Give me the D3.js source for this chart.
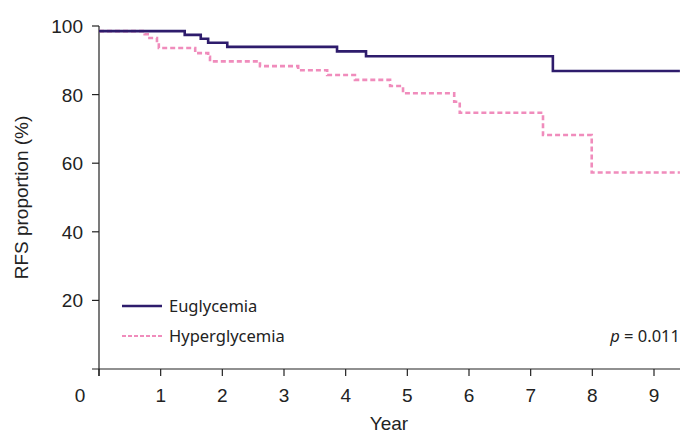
<!DOCTYPE html>
<html>
<head>
<meta charset="utf-8">
<script src="https://cdn.jsdelivr.net/npm/d3@7"></script>
<style>
  html, body { margin: 0; padding: 0; background: #fff; }
  svg { display: block; }
</style>
</head>
<body>
<svg id="chart" width="680" height="435"></svg>
<script>
// ---- data ----
const seriesNames = ["Euglycemia", "Hyperglycemia"];
const euTimes   = [0,    1.39, 1.65, 1.77, 2.08, 3.86, 4.33, 7.36, 9.42];
const euValues  = [98.5, 97.4, 96.3, 95.1, 93.9, 92.6, 91.2, 86.9, 86.9];
const hyTimes   = [0,    0.74, 0.79, 0.94, 0.97, 1.56, 1.77, 1.80, 2.61, 3.23, 3.70, 4.15, 4.72, 4.93, 5.76, 5.85, 7.20, 7.99, 9.42];
const hyValues  = [98.5, 97.6, 96.5, 95.0, 93.6, 92.1, 91.0, 89.7, 88.3, 87.1, 85.7, 84.3, 82.5, 80.4, 77.9, 74.7, 68.2, 57.3, 57.3];
const xTicks = [0, 1, 2, 3, 4, 5, 6, 7, 8, 9];
const yTicks = [20, 40, 60, 80, 100];
const pText = "0.011";

// ---- layout ----
const svg = d3.select("#chart");
const x = d3.scaleLinear().domain([0, 9]).range([99, 654]);
const y = d3.scaleLinear().domain([0, 100]).range([369, 26]);
const xMax = x.invert(680);
const axisFont = "'Liberation Sans', Arial, sans-serif";
const legendFont = "'Noto Sans', Roboto, sans-serif";
const colors = ["#2e1c6c", "#f08cbc"];
const fs = 19;

// x axis
const xAxis = svg.append("g").attr("transform", `translate(0,${y(0)})`);
xAxis.append("line").attr("x1", 92).attr("x2", 680).attr("y1", 0).attr("y2", 0)
  .attr("stroke", "#222").attr("stroke-width", 1.2);
xAxis.selectAll("line.tick").data(xTicks).join("line").attr("class", "tick")
  .attr("x1", d => x(d)).attr("x2", d => x(d)).attr("y1", 0).attr("y2", 7)
  .attr("stroke", "#222").attr("stroke-width", 1.2);
xAxis.selectAll("text.tl").data(xTicks.filter(d => d > 0)).join("text").attr("class", "tl")
  .attr("x", d => x(d)).attr("y", 33).attr("text-anchor", "middle")
  .attr("font-family", axisFont).attr("font-size", fs).attr("fill", "#222").text(d => d);
// origin label
svg.append("text").attr("x", 80).attr("y", y(0) + 33).attr("text-anchor", "middle")
  .attr("font-family", axisFont).attr("font-size", fs).attr("fill", "#222").text("0");
svg.append("text").attr("x", 389).attr("y", 430).attr("text-anchor", "middle")
  .attr("font-family", axisFont).attr("font-size", fs).attr("fill", "#222").text("Year");

// y axis
const yAxis = svg.append("g");
yAxis.append("line").attr("x1", x(0)).attr("x2", x(0)).attr("y1", y(100)).attr("y2", y(0) + 7)
  .attr("stroke", "#222").attr("stroke-width", 1.2);
yAxis.selectAll("line.tick").data(yTicks).join("line").attr("class", "tick")
  .attr("x1", x(0) - 7).attr("x2", x(0)).attr("y1", d => y(d)).attr("y2", d => y(d))
  .attr("stroke", "#222").attr("stroke-width", 1.2);
yAxis.selectAll("text.tl").data(yTicks).join("text").attr("class", "tl")
  .attr("x", 83).attr("y", d => y(d) + 7).attr("text-anchor", "end")
  .attr("font-family", axisFont).attr("font-size", fs).attr("fill", "#222").text(d => d);
svg.append("text").attr("transform", `translate(28,${y(50)}) rotate(-90)`)
  .attr("text-anchor", "middle").attr("font-family", axisFont).attr("font-size", fs)
  .attr("fill", "#222").text("RFS proportion (%)");

// curves
const line = d3.line().x(d => x(Math.min(d[0], xMax))).y(d => y(d[1])).curve(d3.curveStepAfter);
const euData = euTimes.map((t, i) => [t, euValues[i]]);
const hyData = hyTimes.map((t, i) => [t, hyValues[i]]);
svg.append("path").datum(hyData).attr("d", line).attr("fill", "none")
  .attr("stroke", colors[1]).attr("stroke-width", 2.6).attr("stroke-dasharray", "5,3");
svg.append("path").datum(euData).attr("d", line).attr("fill", "none")
  .attr("stroke", colors[0]).attr("stroke-width", 2.6);

// legend
const leg = svg.append("g");
const legY = [306, 336];
seriesNames.forEach((name, i) => {
  leg.append("line").attr("x1", 122).attr("x2", 162).attr("y1", legY[i]).attr("y2", legY[i])
    .attr("stroke", colors[i]).attr("stroke-width", i === 0 ? 2.6 : 2.2)
    .attr("stroke-dasharray", i === 0 ? null : "4,2");
  leg.append("text").attr("x", 169).attr("y", legY[i] + 6)
    .attr("font-family", legendFont).attr("font-size", 16.5).attr("fill", "#222").text(name);
});
const pt = svg.append("text").attr("x", 680).attr("y", 342).attr("text-anchor", "end")
  .attr("font-family", legendFont).attr("font-size", 16.5).attr("fill", "#222");
pt.append("tspan").attr("font-style", "italic").text("p");
pt.append("tspan").text(" = " + pText);
</script>
</body>
</html>
